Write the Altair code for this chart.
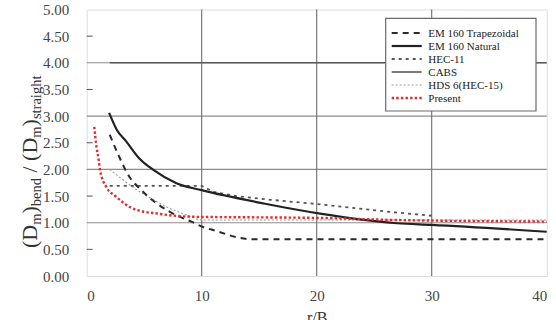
import altair as alt
import pandas as pd

# ---------------- data ----------------
x_ticks = [0, 10, 20, 30, 40]
y_ticks = [0.0, 0.5, 1.0, 1.5, 2.0, 2.5, 3.0, 3.5, 4.0, 4.5, 5.0]
grid_x = [10, 20, 30]
grid_y = [1, 2, 3, 4]
minor_y = [0.5, 1.5, 2.5, 3.5, 4.5]

series_names = ["EM 160 Trapezoidal", "EM 160 Natural", "HEC-11", "CABS",
                "HDS 6(HEC-15)", "Present"]

trap_x = [2.0, 2.8, 3.6, 4.8, 6.1, 7.1, 8.1, 9.1, 10.1, 11.2, 12.2, 13.0, 14.2, 20, 30, 40]
trap_y = [2.65, 2.25, 1.90, 1.60, 1.36, 1.22, 1.11, 1.02, 0.92, 0.85, 0.78, 0.73, 0.69, 0.69, 0.69, 0.69]

nat_x = [1.95, 2.6, 3.45, 4.6, 5.8, 7.8, 10, 15.4, 20.3, 27, 30, 40]
nat_y = [3.06, 2.75, 2.52, 2.20, 1.99, 1.74, 1.61, 1.36, 1.17, 0.99, 0.96, 0.83]

hec11_x = [2, 10, 11, 13, 16, 20, 23, 27, 30]
hec11_y = [1.69, 1.69, 1.58, 1.50, 1.43, 1.35, 1.28, 1.19, 1.13]

cabs_x = [2, 40]
cabs_y = [4.0, 4.0]

hds_x = [2, 3, 4, 5, 6, 7, 8, 9, 10, 40]
hds_y = [2.00, 1.83, 1.67, 1.53, 1.41, 1.29, 1.20, 1.12, 1.05, 1.05]

pres_x = [0.66, 0.81, 1.04, 1.16, 1.68, 2.55, 3.7, 4.87, 5.9, 7.2, 9.6, 15, 20, 27, 30, 40]
pres_y = [2.80, 2.49, 2.18, 1.99, 1.68, 1.49, 1.30, 1.21, 1.18, 1.14, 1.11, 1.10, 1.09, 1.05, 1.04, 1.02]

y_title_parts = ["(D", "m", ")", "bend", " / (D", "m", ")", "straight"]

# ---------------- styles ----------------
FONT = "Liberation Serif"
W, H = 460, 266.5
XS = alt.Scale(domain=[0, 40], nice=False, zero=False)
YS = alt.Scale(domain=[0, 5], nice=False, zero=False)
XA = alt.Axis(values=x_ticks, ticks=False, domain=False, grid=False,
              labelFont=FONT, labelFontSize=15, labelColor="#444", labelPadding=12,
              title="r/B", titleFont=FONT, titleFontSize=16, titleFontWeight="normal",
              titleColor="#333", titlePadding=6)
YA = alt.Axis(values=y_ticks, format=".2f", ticks=False, domain=False, grid=False,
              labelFont=FONT, labelFontSize=15, labelColor="#444", labelPadding=18,
              title=None)

styles = {
    "EM 160 Trapezoidal": dict(color="#2a2a2a", strokeWidth=2.0, strokeDash=[6, 5], interpolate="monotone"),
    "EM 160 Natural": dict(color="#222222", strokeWidth=2.2, interpolate="monotone"),
    "HEC-11": dict(color="#555555", strokeWidth=1.8, strokeDash=[3, 4], interpolate="linear"),
    "CABS": dict(color="#5a5a5a", strokeWidth=1.6, interpolate="linear"),
    "HDS 6(HEC-15)": dict(color="#9a9a9a", strokeWidth=1.1, strokeDash=[2, 2], interpolate="monotone"),
    "Present": dict(color="#e8282b", strokeWidth=2.4, strokeDash=[2.4, 2.2], interpolate="monotone"),
}
series_data = {
    "EM 160 Trapezoidal": (trap_x, trap_y),
    "EM 160 Natural": (nat_x, nat_y),
    "HEC-11": (hec11_x, hec11_y),
    "CABS": (cabs_x, cabs_y),
    "HDS 6(HEC-15)": (hds_x, hds_y),
    "Present": (pres_x, pres_y),
}

layers = []

# axes carrier (invisible) with the real axes
axis_df = pd.DataFrame({"x": [0, 40], "y": [0, 5]})
layers.append(
    alt.Chart(axis_df).mark_point(opacity=0).encode(
        x=alt.X("x:Q", scale=XS, axis=XA),
        y=alt.Y("y:Q", scale=YS, axis=YA),
    )
)

# grid lines
layers.append(
    alt.Chart(pd.DataFrame({"y": grid_y})).mark_rule(color="#8c8c8c", strokeWidth=1.1).encode(
        y=alt.Y("y:Q", scale=YS, axis=YA), x=alt.value(0), x2=alt.value(W))
)
layers.append(
    alt.Chart(pd.DataFrame({"x": grid_x})).mark_rule(color="#6e6e6e", strokeWidth=1.1).encode(
        x=alt.X("x:Q", scale=XS, axis=XA), y=alt.value(0), y2=alt.value(H))
)
# inward minor ticks on y axis
layers.append(
    alt.Chart(pd.DataFrame({"y": minor_y})).mark_rule(color="#555", strokeWidth=1).encode(
        y=alt.Y("y:Q", scale=YS, axis=YA), x=alt.value(0), x2=alt.value(6))
)

# series lines
for name in ["CABS", "HDS 6(HEC-15)", "HEC-11", "EM 160 Trapezoidal", "EM 160 Natural", "Present"]:
    xs, ys = series_data[name]
    df = pd.DataFrame({"x": xs, "y": ys, "series": name})
    st = dict(styles[name])
    layers.append(
        alt.Chart(df).mark_line(**st).encode(
            x=alt.X("x:Q", scale=XS, axis=XA),
            y=alt.Y("y:Q", scale=YS, axis=YA),
        )
    )

# legend box
LX0, LY0, LX1, LY1 = 299, 8.8, 449.3, 101.5
layers.append(
    alt.Chart(pd.DataFrame({"a": [0]})).mark_rect(fill="white", stroke="#6a6a6a", strokeWidth=1.2).encode(
        x=alt.value(LX0), x2=alt.value(LX1), y=alt.value(LY0), y2=alt.value(LY1))
)
for i, name in enumerate(series_names):
    ry = 23.5 + 13 * i
    st = {k: v for k, v in styles[name].items() if k != "interpolate"}
    layers.append(
        alt.Chart(pd.DataFrame({"s": [name]})).mark_rule(**st).encode(
            x=alt.value(305), x2=alt.value(335), y=alt.value(ry))
    )
    layers.append(
        alt.Chart(pd.DataFrame({"s": [name]})).mark_text(
            font=FONT, fontSize=11, color="#222", align="left", baseline="middle").encode(
            x=alt.value(341.6), y=alt.value(ry + 0.5), text="s:N")
    )

# y-axis title with subscripts, built from pieces (reads bottom to top)
BIG, SUB = 22, 14.5
widths = {"(": 0.333, "D": 0.722, ")": 0.333, "m": 0.778, "b": 0.5, "e": 0.444, "n": 0.5,
          "d": 0.5, " ": 0.25, "/": 0.278, "s": 0.389, "t": 0.278, "r": 0.333, "a": 0.444,
          "i": 0.278, "g": 0.5, "h": 0.5}
pos = 248 - 9.5
big_x = 37 - 86.7
sub_x = 41.5 - 86.7
for k, part in enumerate(y_title_parts):
    sub = k % 2 == 1
    size = SUB if sub else BIG
    lead = len(part) - len(part.lstrip(" "))
    txt = part.lstrip(" ").replace(" ", "\u00a0")
    start = pos - lead * widths[" "] * size
    w = sum(widths[c] for c in part) * size
    layers.append(
        alt.Chart(pd.DataFrame({"t": [txt]})).mark_text(
            font=FONT, fontSize=size, color="#333", align="left", baseline="alphabetic",
            angle=270).encode(
            x=alt.value(sub_x if sub else big_x), y=alt.value(start), text="t:N")
    )
    pos -= w

chart = alt.layer(*layers).properties(
    width=W, height=H,
    padding={"left": 86.7, "top": 9.5, "right": 9.3, "bottom": 44},
    autosize="none",
).configure_view(stroke="#444", strokeWidth=1.4).configure(background="white")

chart.save("out.html", embed_options={"renderer": "svg", "actions": False})
